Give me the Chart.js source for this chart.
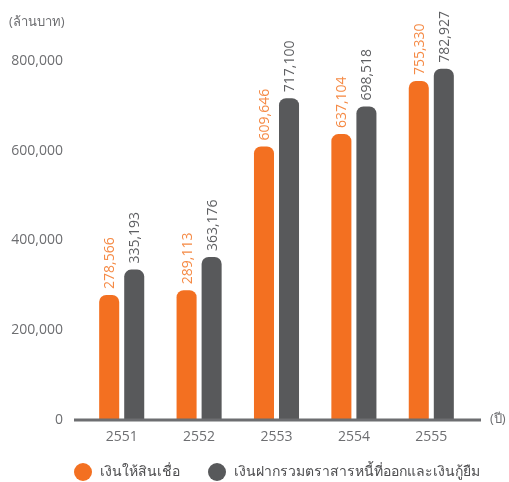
<!DOCTYPE html>
<html>
<head>
<meta charset="utf-8">
<script src="https://cdn.jsdelivr.net/npm/chart.js@4"></script>
<style>
html,body{margin:0;padding:0;background:#fff;}
#wrap{width:509px;height:482px;position:relative;}
</style>
</head>
<body>
<div id="wrap"><canvas id="c" width="509" height="482"></canvas></div>
<script>
const years = ['2551', '2552', '2553', '2554', '2555'];
const loans = [278566, 289113, 609646, 637104, 755330];
const deposits = [335193, 363176, 717100, 698518, 782927];
const yTicks = [0, 200000, 400000, 600000, 800000];
const seriesNames = ['เงินให้สินเชื่อ', 'เงินฝากรวมตราสารหนี้ที่ออกและเงินกู้ยืม'];
const unitLabel = '(ล้านบาท)';
const xUnitLabel = '(ปี)';

const ORANGE = '#F37021';
const ORANGE_TXT = '#F58A45';
const GRAY = '#58595B';
const GRAY_TXT = '#5E5F62';
const AXIS = '#6D6E71';
const FONT = "'Open Sans', 'Noto Sans', sans-serif";

const fmt = v => v.toLocaleString('en-US');

const extras = {
  id: 'extras',
  afterDatasetsDraw(chart) {
    const ctx = chart.ctx;
    const xs = chart.scales.x, ys = chart.scales.y;
    ctx.save();
    // base line
    const y0 = ys.getPixelForValue(0);
    ctx.strokeStyle = AXIS;
    ctx.lineWidth = 3;
    ctx.beginPath();
    ctx.moveTo(74, y0);
    ctx.lineTo(481, y0);
    ctx.stroke();
    // value labels
    const txtColors = [ORANGE_TXT, GRAY_TXT];
    chart.data.datasets.forEach((ds, di) => {
      const meta = chart.getDatasetMeta(di);
      meta.data.forEach((bar, i) => {
        ctx.save();
        ctx.translate(bar.x, bar.y - 6);
        ctx.rotate(-Math.PI / 2);
        ctx.font = '14px ' + FONT;
        ctx.fillStyle = txtColors[di];
        ctx.textAlign = 'left';
        ctx.textBaseline = 'middle';
        ctx.fillText(fmt(ds.data[i]), 0, 1);
        ctx.restore();
      });
    });
    // unit labels
    ctx.font = '13px ' + FONT;
    ctx.fillStyle = AXIS;
    ctx.textAlign = 'left';
    ctx.textBaseline = 'middle';
    ctx.fillText(unitLabel, 9, 22);
    ctx.fillText(xUnitLabel, 490, y0 - 1);
    // legend
    const legendY = 472;
    const items = [{x: 83, c: ORANGE}, {x: 217, c: GRAY}];
    ctx.font = '14px ' + FONT;
    chart.data.datasets.forEach((ds, di) => {
      const it = items[di];
      ctx.fillStyle = ds.backgroundColor;
      ctx.beginPath();
      ctx.arc(it.x, legendY, 9, 0, Math.PI * 2);
      ctx.fill();
      ctx.fillStyle = '#4D4D4F';
      ctx.fillText(ds.label, it.x + 17, legendY);
    });
    ctx.restore();
  }
};

new Chart(document.getElementById('c'), {
  type: 'bar',
  data: {
    labels: years,
    datasets: [
      {label: seriesNames[0], data: loans, backgroundColor: ORANGE},
      {label: seriesNames[1], data: deposits, backgroundColor: GRAY}
    ]
  },
  options: {
    responsive: false,
    animation: false,
    devicePixelRatio: 1,
    categoryPercentage: 0.647,
    barPercentage: 0.8,
    datasets: {
      bar: {
        borderRadius: {topLeft: 7, topRight: 7, bottomLeft: 0, bottomRight: 0},
        borderSkipped: 'bottom'
      }
    },
    layout: {padding: {top: 61, right: 39, bottom: 0, left: 0}},
    plugins: {legend: {display: false}, tooltip: {enabled: false}},
    scales: {
      x: {
        grid: {display: false, drawTicks: false},
        border: {display: false},
        afterFit: s => { s.height = 62; },
        ticks: {color: AXIS, font: {family: FONT, size: 14}, padding: 9}
      },
      y: {
        min: 0,
        max: 800000,
        afterBuildTicks: s => { s.ticks = yTicks.map(v => ({value: v})); },
        afterFit: s => { s.width = 83; },
        grid: {display: false, drawTicks: false},
        border: {display: false},
        ticks: {color: AXIS, font: {family: FONT, size: 14}, padding: 20, callback: v => fmt(v)}
      }
    }
  },
  plugins: [extras]
});
</script>
</body>
</html>
